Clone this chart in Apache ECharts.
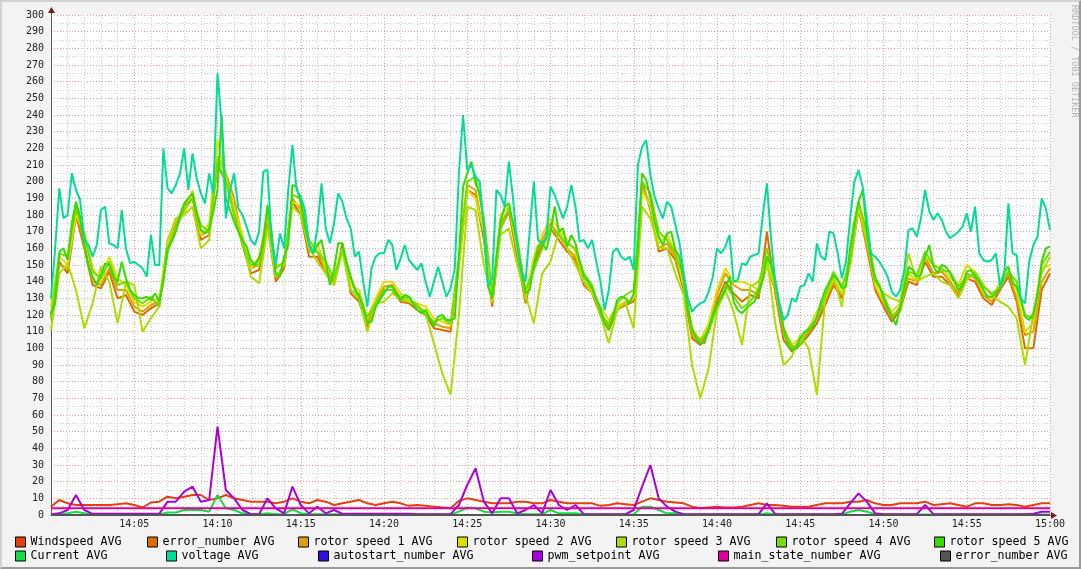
<!DOCTYPE html>
<html>
<head>
<meta charset="utf-8">
<script src="https://cdn.jsdelivr.net/npm/echarts@6/dist/echarts.min.js"></script>
<style>
html,body{margin:0;padding:0;background:#f3f3f3;}
#wrap{position:relative;width:1081px;height:569px;}
#chart{position:absolute;left:0;top:0;width:1081px;height:569px;}
#frame{position:absolute;left:0;top:0;width:1081px;height:569px;box-sizing:border-box;
border-top:2px solid #d2d2d2;border-left:2px solid #d2d2d2;border-bottom:2px solid #9a9a9a;border-right:2px solid #9a9a9a;pointer-events:none;}
</style>
</head>
<body>
<div id="wrap"><div id="chart"></div><div id="frame"></div></div>
<script>
// ---- data: samples evenly spaced from 14:00 to 15:00 (61 minutes span = 60 min) ----
// voltage and rotor speed 5 are read every 15 s, the others every 30 s
const spanMinutes = 60;
const tickLabels = ['14:00','14:05','14:10','14:15','14:20','14:25','14:30','14:35','14:40','14:45','14:50','14:55','15:00'];

const windspeed = [5,9,7,6,6,6,6,6,6.5,7, 6,4.5,7.5,8,11,10,11,12,12,9, 10,12,10,9,8,8,8,7,8,10, 8,7,9,8,6,7,8,9,7,6,
 7,8,7,5.5,6,5.5,5,4.5,4,8.5, 10,9,8,7,7,7,8,8,7,7, 9,8,7,7,7,7,5.5,6,7,6.5, 6,8,10,9,8,7.5,7,5,4,4.5,
 5,4.5,4.5,5,6,7,6,6,5.5,5, 5,5,6,7,7,7,8,8,9,7, 6,6,7,7,7,8,6,6.5,7,6, 5,7,7,6,6,6.5,6,5,6,7,7];

const errorNumberOrange = [120,152,145,180,160,138,136,146,130,132, 122,120,124,127,158,172,183,190,165,168, 210,200,185,162,145,147,175,140,148,188,
 180,155,155,145,138,163,133,128,113,125, 135,135,128,127,123,120,112,111,110,150, 195,192,165,125,172,182,155,127,150,162,
 172,165,158,153,138,133,120,111,123,126, 128,200,183,158,160,153,135,106,102,110, 128,140,133,128,132,130,170,133,105,98,
 102,108,115,126,138,130,150,185,160,135, 125,116,123,140,138,152,143,143,138,131, 142,140,130,126,135,143,128,100,100,135,145];

const rotor1 = [118,150,148,183,162,140,138,148,135,135, 125,122,126,128,160,175,185,193,168,170, 215,205,190,165,148,150,178,142,150,190,
 183,158,158,147,140,160,135,130,115,128, 137,138,130,128,125,122,115,113,112,152, 198,195,168,127,175,183,158,128,152,165,
 175,168,160,155,140,135,122,113,125,127, 130,198,185,160,163,155,137,108,103,112, 132,145,138,135,135,132,150,135,108,100,
 103,110,118,128,140,132,152,183,162,137, 127,118,125,142,140,155,145,146,140,133, 145,142,132,128,137,145,130,108,110,140,148];

const rotor2 = [125,155,150,180,170,148,140,155,142,138, 128,125,128,130,163,178,180,195,168,175, 225,200,185,168,148,155,180,150,150,188,
 185,160,163,148,143,160,138,135,118,130, 140,140,133,128,127,125,118,116,114,150, 195,190,170,128,180,185,160,130,155,168,
 178,172,165,158,140,133,125,117,125,128, 130,195,185,163,168,158,138,112,105,115, 135,148,140,140,138,135,150,138,112,102,
 106,112,122,130,142,133,150,185,165,138, 128,122,127,145,140,155,150,148,142,138, 150,146,133,130,140,147,135,110,115,148,150];

const rotor3 = [111,145,151,135,112,127,149,140,115,140, 138,110,118,125,165,178,180,185,160,165, 215,205,180,165,143,139,172,143,150,185,
 180,160,152,145,138,158,135,130,110,127, 128,133,129,128,125,121,103,85,72,120, 185,183,150,129,168,172,150,132,115,145,
 152,170,160,150,140,135,120,103,123,127, 112,185,178,160,160,145,132,90,70,88, 123,135,122,102,137,140,155,115,90,95,
 108,100,72,130,143,125,160,188,165,140, 133,130,128,157,140,143,145,140,138,130, 141,146,138,132,128,125,118,90,121,145,155];

const rotor4 = [118,157,155,185,168,146,142,152,138,140, 130,127,131,125,158,172,184,190,174,170, 212,200,180,162,150,150,182,148,152,192,
 190,165,158,152,142,160,142,130,119,127, 135,135,131,130,126,120,116,118,115,155, 200,203,178,133,172,184,166,135,147,160,
 172,168,163,160,145,138,120,115,127,132, 135,200,193,170,165,157,143,110,105,110, 125,138,131,124,128,136,160,138,112,101,
 102,112,118,132,146,137,152,188,170,143, 132,120,122,146,144,158,150,147,146,137, 143,145,137,133,136,146,140,120,118,150,158];

const rotor5 = [121,127,158,160,153,175,188,179,162,149, 143,138,144,151,150,143,140,152,142,135,
 132,130,130,131,129,133,128,140,160,164, 170,180,187,190,193,182,171,169,172,182,
 195,240,190,183,176,170,165,161,153,150, 154,164,186,170,145,143,155,162,198,197,
 187,173,163,157,162,165,152,138,147,163, 163,152,143,135,132,125,116,116,125,129,
 133,137,137,133,129,132,131,127,123,121, 123,118,113,119,120,117,117,118,155,197,
 205,212,199,193,175,137,130,155,176,185, 187,175,163,146,133,135,150,161,163,159,
 170,185,170,172,161,168,163,152,143,140, 136,130,124,115,111,118,129,131,130,127,
 133,160,205,201,190,176,167,162,169,170, 159,155,141,123,112,106,103,103,112,120,
 126,130,135,143,128,123,121,124,126,128, 134,141,155,150,141,126,112,102,99,100,
 106,110,111,113,119,128,135,140,144,141, 136,137,160,176,188,195,170,153,141,138,
 130,124,119,114,125,137,149,147,143,144, 155,162,149,145,150,149,145,140,135,138,
 146,147,143,140,135,131,131,133,137,146, 149,139,137,129,119,117,121,132,152,160,161];

const current = [0,0.3,1,2,1,0.3,0.3,0.3,0.3,0.3, 0.3,0.3,0.3,0.3,1.5,1.5,3,3,3,2, 12,4,3,1,0.5,0.5,1,0.5,0.5,3.5,
 1,0.5,0.5,0.5,0.5,0.3,0.3,0.3,0.3,0.3, 0.3,0.3,0.3,0.3,0.3,0.3,0.3,0.3,0.3,2, 4.5,4,2,1.5,2,2,1,0.5,0.5,0.5,
 3,1,1,1,0.5,0.3,0.3,0.3,0.3,0.3, 0.5,5,5,3,1,1,0.5,0.3,0.3,0.3, 0.3,0.3,0.3,0.3,0.3,0.3,1,0.3,0.3,0.3,
 0.3,0.3,0.3,0.3,0.3,0.3,2,3,2,0.5, 0.3,0.3,0.3,0.3,0.3,0.3,0.3,0.3,0.3,0.3, 0.3,0.3,0.3,0.3,0.3,0.3,0.3,0.3,0.3,0.3,0.3];

const voltage = [130,160,196,178,180,205,195,189,165,162, 155,162,183,185,163,162,160,183,160,151,
 152,150,148,143,168,150,150,220,196,193, 198,205,220,195,217,202,193,187,205,193,
 265,235,178,195,205,184,180,173,165,162, 170,206,207,165,150,169,160,195,222,195,
 191,183,162,157,172,199,172,163,175,193, 188,178,172,155,158,140,125,148,155,157,
 157,165,162,147,154,162,153,150,147,151, 140,131,140,149,140,131,136,148,205,240,
 207,210,203,200,172,137,142,195,192,185, 212,190,162,146,140,170,200,165,163,166,
 197,192,185,178,185,198,185,164,165,160, 165,152,140,123,135,158,160,155,153,155,
 147,210,221,225,204,191,184,178,188,185, 174,163,145,130,122,125,127,128,134,143,
 160,157,161,168,140,141,151,150,155,156, 157,180,199,165,140,127,117,120,130,128,
 137,138,145,140,163,155,153,170,169,157, 142,152,178,200,207,197,177,157,155,152,
 148,143,134,131,135,147,171,172,167,178, 195,182,177,181,177,170,166,168,170,173,
 181,170,185,157,153,152,153,157,137,144, 187,157,156,130,127,152,162,167,190,184,171];

const autostart = new Array(121).fill(0);

const pwmSetpoint = [0.5,1,3,12,3,0.7,0.7,0.7,0.7,0.7, 0.7,0.7,0.7,0.7,8,8,14,17,8,9, 53,15,10,3,0.5,0.5,10,4,1,17,
 6,1,5,1,3,0.7,0.7,0.7,0.7,0.7, 0.7,0.7,0.7,0.7,0.5,0.5,0.5,0.5,0.5,6, 18,28,8,1,10,10,1,3,6,1,
 15,6,3,6,0.5,0.5,0.5,0.5,0.5,0.5, 3,17,30,10,5,2,0.5,0.5,0.5,0.5, 0.5,0.5,0.5,0.5,0.5,0.5,7,0.5,0.5,0.5,
 0.5,0.5,0.5,0.5,0.5,0.7,7,13,8,1, 0.5,0.5,0.5,0.5,0.5,6,0.5,0.5,0.5,0.5, 0.5,0.5,0.5,0.5,0.5,0.5,0.5,0.5,0.7,2,2];

const mainState = new Array(121).fill(4);
const errorNumberGray = new Array(121).fill(0);

const seriesNames = ['Windspeed AVG','error_number AVG','rotor speed 1 AVG','rotor speed 2 AVG','rotor speed 3 AVG','rotor speed 4 AVG','rotor speed 5 AVG',
 'Current AVG','voltage AVG','autostart_number AVG','pwm_setpoint AVG','main_state_number AVG','error_number AVG '];
const seriesValues = [windspeed,errorNumberOrange,rotor1,rotor2,rotor3,rotor4,rotor5,current,voltage,autostart,pwmSetpoint,mainState,errorNumberGray];
const seriesColors = ['#e4400c','#dd6a00','#dda000','#dddd00','#aadd00','#77dd00','#33dd00','#11dd44','#00dd99','#3311dd','#aa00dd','#dd0099','#555555'];

// legend placement (rows of the RRD legend)
const legendPos = [[15,536],[147,536],[298,536],[457,536],[616,536],[776,536],[934,536],
                   [15,550],[166,550],[318,550],[532,550],[718,550],[940,550]];

const FONT = 'DejaVu Sans Mono';
const chart = echarts.init(document.getElementById('chart'), null, {renderer:'canvas'});

const series = seriesNames.map((name, k) => {
  const vals = seriesValues[k];
  const step = spanMinutes / (vals.length - 1);
  return {
    name: name,
    type: 'line',
    showSymbol: false,
    animation: false,
    lineStyle: {width: 2, color: seriesColors[k]},
    itemStyle: {color: seriesColors[k]},
    emphasis: {disabled: true},
    data: vals.map((v, i) => [i * step, v])
  };
});

const legends = seriesNames.map((name, k) => ({
  data: [name],
  left: legendPos[k][0],
  top: legendPos[k][1],
  padding: 0,
  itemWidth: 10,
  itemHeight: 10,
  icon: 'rect',
  selectedMode: false,
  itemStyle: {borderColor: '#000', borderWidth: 1},
  textStyle: {fontFamily: FONT, fontSize: 11.63, color: '#000'}
}));

chart.setOption({
  backgroundColor: '#f3f3f3',
  animation: false,
  grid: {left: 51, right: 31, top: 15, bottom: 54, show: true, backgroundColor: '#ffffff', borderWidth: 0},
  legend: legends,
  xAxis: {
    type: 'value', min: 0, max: 60, interval: 5,
    axisLabel: {formatter: v => tickLabels[Math.round(v / 5)], showMinLabel: false,
                fontFamily: FONT, fontSize: 10, color: '#222', margin: 4},
    axisLine: {show: true, lineStyle: {color: '#5a5a5a', width: 1}},
    axisTick: {show: false},
    splitLine: {show: true, lineStyle: {color: '#e8a0a0', type: [1, 2], width: 1}},
    minorTick: {show: false, splitNumber: 5},
    minorSplitLine: {show: true, lineStyle: {color: '#cfcfcf', type: [1, 2], width: 1}}
  },
  yAxis: {
    type: 'value', min: 0, max: 300, interval: 10,
    axisLabel: {fontFamily: FONT, fontSize: 10, color: '#222', margin: 7},
    axisLine: {show: true, lineStyle: {color: '#5a5a5a', width: 1}},
    axisTick: {show: false},
    splitLine: {show: true, lineStyle: {color: '#e8a0a0', type: [1, 2], width: 1}},
    minorTick: {show: false, splitNumber: 2},
    minorSplitLine: {show: true, lineStyle: {color: '#cfcfcf', type: [1, 2], width: 1}}
  },
  graphic: [
    {type: 'line', shape: {x1: 51.5, y1: 9, x2: 51.5, y2: 15}, style: {stroke: '#5a5a5a', lineWidth: 1}, silent: true},
    {type: 'polygon', shape: {points: [[48, 13], [55, 13], [51.5, 7]]}, style: {fill: '#7a1a1a'}, silent: true},
    {type: 'line', shape: {x1: 1050, y1: 515.5, x2: 1054, y2: 515.5}, style: {stroke: '#5a5a5a', lineWidth: 1}, silent: true},
    {type: 'polygon', shape: {points: [[1051, 512], [1051, 519], [1057, 515.5]]}, style: {fill: '#7a1a1a'}, silent: true},
    {type: 'text', x: 1074, y: 5, rotation: -Math.PI / 2, silent: true,
     style: {text: 'RRDTOOL / TOBI OETIKER', fill: '#b4b4b4', font: '8.5px "DejaVu Sans Mono"',
             textAlign: 'left', textVerticalAlign: 'middle'}}
  ],
  series: series
});
</script>
</body>
</html>
